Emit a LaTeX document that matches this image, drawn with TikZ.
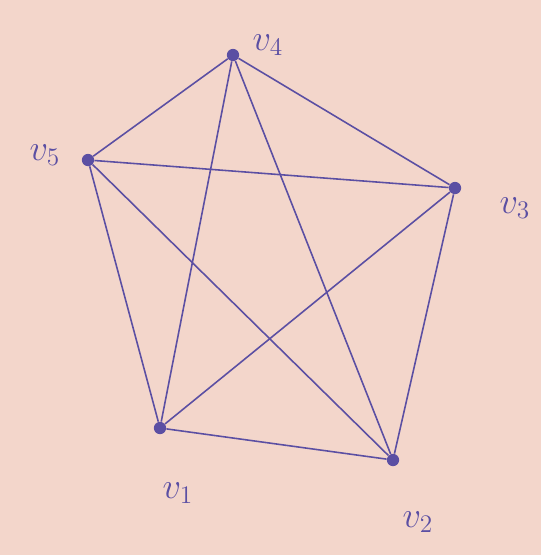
\documentclass[tikz,border=0pt]{standalone}
\begin{document}
\begin{tikzpicture}[x=0.02cm,y=-0.02cm,
  ink/.style={draw=inkc, line width=0.9pt},
  vtx/.style={circle, fill=inkc, inner sep=0pt, minimum size=7pt},
  lbl/.style={text=inkc, font=\fontsize{22}{24}\selectfont}]
\definecolor{paper}{HTML}{F3D6CB}
\definecolor{inkc}{HTML}{5B4FA3}
\fill[paper] (0,0) rectangle (541,555);
\useasboundingbox (0,0) rectangle (541,555);
\node[vtx] (v4) at (233,55) {};
\node[vtx] (v5) at (88,160) {};
\node[vtx] (v3) at (455,188) {};
\node[vtx] (v1) at (160,428) {};
\node[vtx] (v2) at (393,460) {};
\node[lbl] (l4) at (268,45) {$v_4$};
\node[lbl] (l5) at (45,155) {$v_5$};
\node[lbl] (l3) at (515,208) {$v_3$};
\node[lbl] (l1) at (178,493) {$v_1$};
\node[lbl] (l2) at (418,522) {$v_2$};
\draw[ink] (v4) -- (v5);
\draw[ink] (v4) -- (v3);
\draw[ink] (v4) -- (v1);
\draw[ink] (v4) -- (v2);
\draw[ink] (v5) -- (v3);
\draw[ink] (v5) -- (v1);
\draw[ink] (v5) -- (v2);
\draw[ink] (v3) -- (v1);
\draw[ink] (v3) -- (v2);
\draw[ink] (v1) -- (v2);
\end{tikzpicture}
\end{document}
